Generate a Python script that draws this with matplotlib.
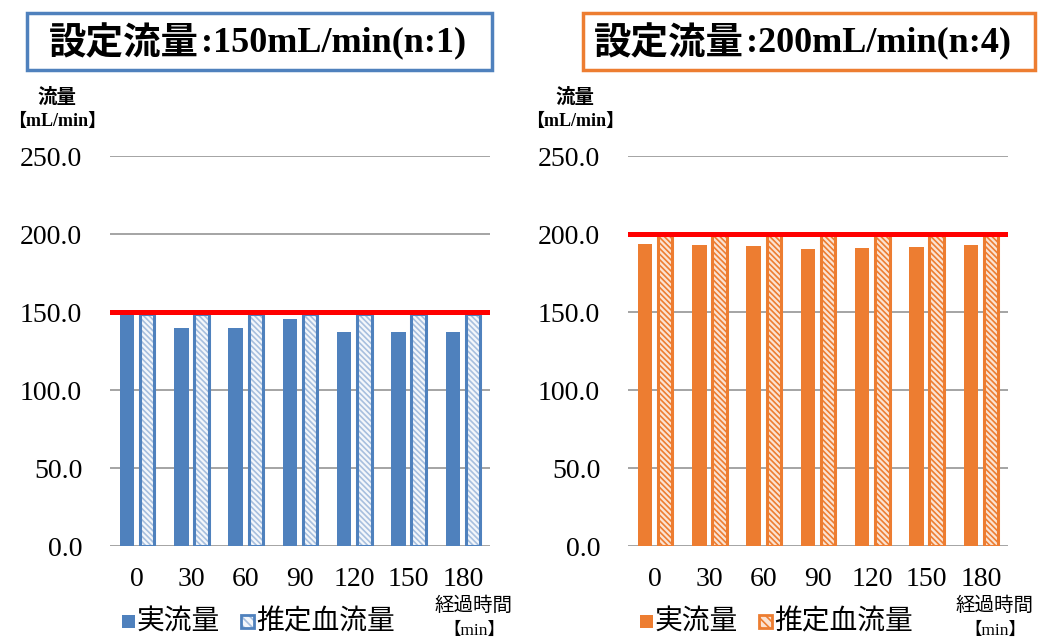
import matplotlib
matplotlib.use("Agg")
import matplotlib.pyplot as plt
from matplotlib.patches import Rectangle
import numpy as np

categories = ["0", "30", "60", "90", "120", "150", "180"]
left_actual = [149, 139.5, 139.5, 145.5, 137.5, 137.5, 137.5]
left_est = [149, 149, 149, 149, 149, 149, 149]
left_set = 150
right_actual = [193.5, 192.8, 192.3, 190.4, 190.8, 191.5, 193.0]
right_est = [199.3, 199.3, 199.3, 199.3, 199.3, 199.3, 199.3]
right_set = 200
yticks = [0, 50, 100, 150, 200, 250]
left_title = ["設定流量", ":150mL/min(n:1)"]
right_title = ["設定流量", ":200mL/min(n:4)"]
series_names = ["実流量", "推定血流量"]

W, H = 1039, 641
plt.rcParams["hatch.linewidth"] = 1.2
fig = plt.figure(figsize=(W / 100, H / 100), dpi=100)

SERIF = ["Liberation Serif", "Noto Sans CJK JP"]
CJK = ["Noto Sans CJK JP", "DejaVu Sans"]


def fx(px):
    return px / W


def fy(py):
    return 1 - py / H


def panel(x0, actual, est, setv, color, hatch_face, hatch_color, title, box_x0, box_x1, split):
    ax = fig.add_axes([fx(x0), fy(546), fx(380), 390 / H])
    x = np.arange(len(categories))
    bw = 0.265
    off = 0.185
    ax.bar(x - off, actual, width=bw, color=color, edgecolor=color, linewidth=0, zorder=3)
    ax.bar(x + off, est, width=bw, color=hatch_face, edgecolor=hatch_color, hatch="\\\\\\\\\\\\",
           linewidth=0, zorder=3)
    ax.bar(x + off, est, width=bw, color="none", edgecolor=color, linewidth=2.2, zorder=4)
    ax.axhline(setv, color="#FF0000", linewidth=3.6, zorder=5)
    ax.set_xlim(-0.5, len(categories) - 0.5)
    ax.set_ylim(0, 250)
    ax.set_yticks(yticks)
    ax.set_yticklabels([f"{v:.1f}" for v in yticks], fontfamily=SERIF, fontsize=20)
    ax.set_xticks(x)
    ax.set_xticklabels(categories, fontfamily=SERIF, fontsize=20)
    ax.tick_params(length=0)
    ax.tick_params(axis="x", pad=15)
    ax.tick_params(axis="y", pad=20)
    ax.grid(axis="y", color="#8c8c8c", linewidth=1.1, zorder=0)
    for s in ax.spines.values():
        s.set_visible(False)
    # title box
    fig.patches.append(Rectangle((fx(box_x0), fy(70)), fx(box_x1 - box_x0), 57 / H,
                                 transform=fig.transFigure, fill=False,
                                 edgecolor=color, linewidth=2.5))
    fig.text(fx(split), fy(43), title[0], family=CJK, fontsize=27, fontweight="bold",
             ha="right", va="center")
    fig.text(fx(split + 2), fy(43), title[1], family=SERIF, fontsize=26, fontweight="bold",
             ha="left", va="center")
    return ax


panel(110, left_actual, left_est, left_set, "#4F81BD", "#F4F7FB", "#A7BFDE", left_title, 27, 492, 199)
panel(628, right_actual, right_est, right_set, "#ED7D31", "#FBE3D3", "#ED7D31", right_title, 583, 1035, 744)

# y-axis label and legends
for ylab_x, color, hface, hcol, sq1, sq2, xl in [(57, "#4F81BD", "#F4F7FB", "#A7BFDE", 128, 247, 474),
                                                (575, "#ED7D31", "#FBE3D3", "#ED7D31", 646, 765, 995)]:
    fig.text(fx(ylab_x), fy(97), "流量", family=CJK, fontsize=14, fontweight="bold",
             ha="center", va="center")
    fig.text(fx(ylab_x), fy(121), "【mL/min】", family=SERIF, fontsize=13, fontweight="bold",
             ha="center", va="center")
    s = 13
    fig.patches.append(Rectangle((fx(sq1 - s / 2), fy(621 + s / 2)), fx(s), s / H,
                                 transform=fig.transFigure, facecolor=color, edgecolor=color, lw=0))
    fig.text(fx(sq1 + 9), fy(621), series_names[0], family=CJK, fontsize=20,
             ha="left", va="center")
    fig.patches.append(Rectangle((fx(sq2 - s / 2), fy(621 + s / 2)), fx(s), s / H,
                                 transform=fig.transFigure, facecolor=hface, edgecolor=hcol,
                                 hatch="\\\\\\\\", lw=0))
    fig.patches.append(Rectangle((fx(sq2 - s / 2), fy(621 + s / 2)), fx(s), s / H,
                                 transform=fig.transFigure, facecolor="none", edgecolor=color, lw=2))
    fig.text(fx(sq2 + 9), fy(621), series_names[1], family=CJK, fontsize=20,
             ha="left", va="center")
    fig.text(fx(xl), fy(605), "経過時間", family=CJK, fontsize=14, ha="center", va="center")
    fig.text(fx(xl), fy(631), "【min】", family=SERIF, fontsize=12.5, ha="center", va="center")

fig.savefig("out.png", dpi=100)
